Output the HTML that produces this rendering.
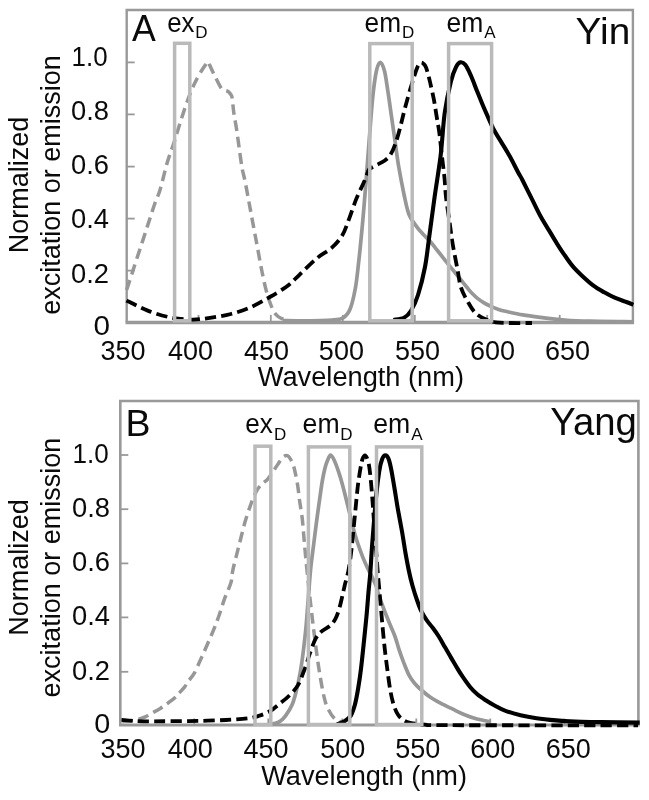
<!DOCTYPE html>
<html><head><meta charset="utf-8"><title>Yin Yang spectra</title>
<style>
html,body{margin:0;padding:0;background:#fff;}
svg{display:block;will-change:transform}
text{font-family:"Liberation Sans",Arial,Helvetica,sans-serif;fill:#0a0a0a;}
</style></head><body>
<svg width="649" height="800" viewBox="0 0 649 800">
<rect width="649" height="800" fill="#fff"/>

<g id="panelA"><path d="M126.7,322V10H632.9V322" fill="none" stroke="#999999" stroke-width="2.4"/>
<path d="M125.5,322.4H634.1" fill="none" stroke="#999999" stroke-width="3.5"/>
<path d="M126.7,62.4h8" stroke="#999999" stroke-width="1.8" fill="none"/>
<path d="M126.7,114.4h8" stroke="#999999" stroke-width="1.8" fill="none"/>
<path d="M126.7,166.6h8" stroke="#999999" stroke-width="1.8" fill="none"/>
<path d="M126.7,218.6h8" stroke="#999999" stroke-width="1.8" fill="none"/>
<path d="M126.7,270.6h8" stroke="#999999" stroke-width="1.8" fill="none"/>
<path d="M198.5,322.4v-7.5" stroke="#999999" stroke-width="1.8" fill="none"/>
<path d="M270.8,322.4v-7.5" stroke="#999999" stroke-width="1.8" fill="none"/>
<path d="M342.8,322.4v-7.5" stroke="#999999" stroke-width="1.8" fill="none"/>
<path d="M414.8,322.4v-7.5" stroke="#999999" stroke-width="1.8" fill="none"/>
<path d="M487.2,322.4v-7.5" stroke="#999999" stroke-width="1.8" fill="none"/>
<path d="M559.7,322.4v-7.5" stroke="#999999" stroke-width="1.8" fill="none"/>
<path d="M126.6,290.0C127.5,287.2 129.9,280.0 132.1,273.2C134.3,266.4 137.3,257.1 140.0,249.0C142.7,240.9 145.6,231.8 148.0,224.4C150.4,217.0 152.5,210.3 154.5,204.5C156.5,198.7 158.0,196.6 160.1,189.7C162.2,182.8 164.8,170.8 167.1,163.0C169.4,155.2 171.7,149.7 174.0,142.6C176.3,135.5 178.6,127.6 180.9,120.4C183.2,113.2 185.6,105.8 187.9,99.6C190.2,93.4 192.5,87.8 194.8,83.0C197.1,78.2 199.8,73.7 201.7,70.5C203.6,67.3 205.2,65.3 206.3,63.8C207.4,62.3 207.5,61.4 208.1,61.6C208.7,61.9 208.8,63.1 209.8,65.3C210.8,67.5 212.3,70.9 214.2,74.7C216.1,78.5 219.3,85.4 221.1,88.0C222.9,90.6 223.6,89.7 224.8,90.3C226.0,90.9 227.1,90.8 228.1,91.5C229.1,92.2 230.1,93.4 230.8,94.5C231.5,95.6 231.7,95.3 232.2,98.2C232.7,101.1 233.0,107.0 233.7,112.1C234.4,117.2 235.6,122.7 236.5,128.7C237.4,134.7 238.3,141.7 239.2,148.2C240.1,154.7 241.1,162.3 242.0,167.6C242.9,172.9 243.6,174.2 244.8,180.0C246.0,185.8 247.6,194.8 249.0,202.2C250.4,209.6 251.7,217.0 253.1,224.4C254.5,231.8 255.9,239.2 257.3,246.6C258.7,254.0 260.0,261.8 261.4,268.7C262.8,275.6 264.2,282.6 265.6,288.1C267.0,293.7 268.4,298.1 269.8,302.0C271.2,305.9 272.5,309.3 273.9,311.7C275.3,314.1 276.5,315.2 278.1,316.5C279.7,317.8 282.7,319.0 283.6,319.5" fill="none" stroke="#979797" stroke-width="3.5" stroke-linejoin="round" stroke-dasharray="10.6 5.8"/>
<path d="M283.0,320.6C285.8,320.6 291.8,320.9 300.0,320.8C308.2,320.7 324.8,320.5 332.0,320.0C339.2,319.5 340.1,319.6 343.1,317.8C346.1,316.0 348.1,314.0 350.1,309.0C352.2,304.0 353.9,296.2 355.4,288.0C356.9,279.8 357.7,270.5 358.9,260.0C360.1,249.5 361.2,237.8 362.4,225.0C363.6,212.2 364.7,197.6 365.9,183.0C367.1,168.4 368.2,152.1 369.4,137.5C370.6,122.9 371.7,106.6 372.9,95.5C374.1,84.4 375.2,76.5 376.4,71.0C377.6,65.5 378.9,62.3 380.3,62.3C381.7,62.3 383.2,66.0 384.5,71.0C385.8,76.0 386.8,84.4 388.0,92.0C389.2,99.6 390.3,108.3 391.5,116.5C392.7,124.7 393.8,132.8 395.0,141.0C396.2,149.2 397.0,156.8 398.5,165.5C400.0,174.2 402.1,185.3 403.8,193.5C405.6,201.7 406.8,208.9 409.0,214.5C411.2,220.1 414.4,223.5 416.8,226.8C419.2,230.1 420.9,231.8 423.1,234.2C425.3,236.6 427.7,238.7 430.0,241.3C432.3,243.9 434.7,247.1 437.0,250.0C439.3,252.9 442.1,256.4 444.0,258.8C445.9,261.2 446.6,262.2 448.4,264.5C450.2,266.8 452.9,269.9 455.0,272.5C457.1,275.1 458.9,277.4 461.0,280.0C463.1,282.6 465.7,285.8 467.5,288.0C469.3,290.2 470.3,291.6 472.0,293.3C473.7,295.0 475.5,296.8 477.5,298.4C479.5,300.0 481.7,301.4 484.0,302.8C486.3,304.2 489.2,305.5 491.5,306.6C493.8,307.7 495.7,308.4 498.0,309.2C500.3,310.0 501.3,310.4 505.5,311.3C509.7,312.2 516.6,313.8 523.0,314.9C529.4,316.0 537.0,316.9 544.0,317.8C551.0,318.7 557.3,319.4 565.0,320.0C572.7,320.6 578.7,320.9 590.0,321.2C601.3,321.5 625.8,321.7 633.0,321.8" fill="none" stroke="#979797" stroke-width="3.7" stroke-linejoin="round"/>
<path d="M126.5,300.5C127.0,300.8 126.2,300.3 129.7,302.0C133.2,303.7 141.0,308.1 147.7,310.6C154.4,313.2 162.5,315.8 169.9,317.3C177.3,318.8 185.2,319.6 192.1,319.6C199.0,319.7 205.0,318.5 211.5,317.6C218.0,316.7 224.4,315.7 230.9,314.0C237.4,312.3 243.8,310.2 250.3,307.4C256.8,304.6 263.8,300.4 269.8,297.0C275.8,293.6 282.0,289.9 286.4,286.8C290.8,283.7 293.1,280.9 296.0,278.2C298.9,275.5 300.3,273.9 303.9,270.5C307.5,267.1 313.1,261.4 317.7,257.6C322.3,253.8 327.5,251.6 331.6,247.9C335.7,244.2 339.3,240.3 342.2,235.5C345.1,230.7 346.8,224.8 349.1,218.8C351.4,212.8 353.8,205.2 356.1,199.4C358.4,193.6 361.3,187.9 363.0,184.2C364.7,180.5 365.1,179.4 366.1,177.0C367.1,174.6 367.6,171.3 369.0,169.5C370.4,167.7 372.0,167.5 374.6,166.0C377.2,164.5 381.8,162.6 384.5,160.7C387.2,158.8 388.8,157.4 390.6,154.5C392.4,151.6 393.9,148.2 395.5,143.5C397.1,138.8 398.9,132.4 400.5,126.2C402.1,120.0 403.5,113.5 405.4,106.5C407.3,99.5 409.9,90.2 411.8,84.0C413.7,77.8 415.3,72.8 416.5,69.5C417.7,66.2 418.2,65.2 419.0,64.0C419.8,62.8 420.3,62.6 421.0,62.5C421.7,62.4 422.3,62.6 423.2,63.5C424.1,64.4 425.1,64.7 426.2,67.8C427.3,70.9 428.8,76.8 430.0,81.9C431.2,87.1 432.6,93.1 433.7,98.7C434.8,104.3 435.6,110.0 436.5,115.6C437.4,121.2 438.4,125.9 439.3,132.5C440.2,139.1 440.9,147.4 441.8,155.0C442.7,162.6 443.8,170.8 444.5,178.0C445.2,185.2 445.2,190.5 446.1,198.0C447.0,205.5 448.6,215.3 449.7,223.1C450.8,230.9 451.5,237.0 452.8,244.7C454.1,252.4 456.1,262.2 457.5,269.4C458.9,276.6 459.2,282.2 461.1,287.9C463.0,293.5 466.1,298.9 468.7,303.3C471.2,307.7 473.3,311.2 476.4,314.0C479.5,316.8 483.9,318.6 487.2,320.0C490.5,321.4 492.2,321.8 496.0,322.3C499.8,322.8 504.0,322.9 510.0,323.0C516.0,323.1 528.3,323.0 532.0,323.0" fill="none" stroke="#000000" stroke-width="3.8" stroke-linejoin="round" stroke-dasharray="11.2 5.2"/>
<path d="M393.5,320.0C395.2,319.6 401.1,319.3 404.0,317.8C406.9,316.3 408.7,314.6 411.0,310.8C413.3,307.0 415.7,302.3 418.0,295.0C420.3,287.7 423.1,276.9 425.0,267.0C426.9,257.1 427.8,247.2 429.4,235.5C431.0,223.8 432.7,210.4 434.6,197.0C436.5,183.6 439.0,169.0 440.7,155.0C442.4,141.0 443.0,125.2 444.7,113.0C446.4,100.8 449.0,89.2 450.9,81.5C452.8,73.8 454.5,70.0 456.1,66.8C457.7,63.6 458.9,62.6 460.5,62.3C462.1,62.0 463.7,62.7 465.5,65.0C467.3,67.3 469.2,71.8 471.1,76.0C473.0,80.2 474.8,85.4 476.6,90.0C478.5,94.6 480.4,99.4 482.2,103.8C484.0,108.2 485.8,112.2 487.7,116.3C489.6,120.4 491.0,124.3 493.3,128.7C495.6,133.1 498.8,138.0 501.6,142.6C504.4,147.2 507.1,151.5 509.9,156.5C512.7,161.5 516.1,168.6 518.2,172.5C520.3,176.4 520.1,175.5 522.4,180.0C524.7,184.5 529.1,193.4 532.1,199.4C535.1,205.4 537.6,210.9 540.4,216.0C543.2,221.1 545.9,225.3 548.7,229.9C551.5,234.5 554.3,239.4 557.1,243.8C559.9,248.2 562.6,252.4 565.4,256.3C568.2,260.2 570.9,264.2 573.7,267.4C576.5,270.6 578.8,272.7 582.0,275.7C585.2,278.7 589.4,282.6 593.1,285.4C596.8,288.2 600.5,290.2 604.2,292.3C607.9,294.4 611.6,296.3 615.3,297.9C619.0,299.5 623.4,300.9 626.4,302.0C629.4,303.1 632.1,304.3 633.3,304.8" fill="none" stroke="#000000" stroke-width="4.1" stroke-linejoin="round"/>
<rect x="174.6" y="43.3" width="15.2" height="277.5" fill="none" stroke="#bababa" stroke-width="3.5" opacity="1"/>
<rect x="369.8" y="43.6" width="42.4" height="277.2" fill="none" stroke="#bababa" stroke-width="3.5" opacity="1"/>
<rect x="448.6" y="43.6" width="43.0" height="277.2" fill="none" stroke="#bababa" stroke-width="3.5" opacity="1"/>
<text x="131.9" y="41.2" font-size="37" textLength="23.8" lengthAdjust="spacingAndGlyphs">A</text>
<text x="575.6" y="44.3" font-size="37" textLength="54.6" lengthAdjust="spacingAndGlyphs">Yin</text>
<text x="167.2" y="31.7" font-size="27" textLength="27.3" lengthAdjust="spacingAndGlyphs">ex</text>
<text x="195.3" y="38.4" font-size="17">D</text>
<text x="364.6" y="31.6" font-size="27" textLength="36.5" lengthAdjust="spacingAndGlyphs">em</text>
<text x="402" y="38.2" font-size="17">D</text>
<text x="446.6" y="31.6" font-size="27" textLength="36.8" lengthAdjust="spacingAndGlyphs">em</text>
<text x="484.2" y="38.4" font-size="17">A</text>
<text x="71.6" y="66" font-size="27" textLength="36" lengthAdjust="spacingAndGlyphs">1.0</text>
<text x="71" y="119.5" font-size="27" textLength="38" lengthAdjust="spacingAndGlyphs">0.8</text>
<text x="71" y="173.5" font-size="27" textLength="38" lengthAdjust="spacingAndGlyphs">0.6</text>
<text x="71" y="227.8" font-size="27" textLength="38" lengthAdjust="spacingAndGlyphs">0.4</text>
<text x="71" y="283.2" font-size="27" textLength="38" lengthAdjust="spacingAndGlyphs">0.2</text>
<text x="93.4" y="335.4" font-size="27" textLength="16.5" lengthAdjust="spacingAndGlyphs">0</text>
<text x="123" y="359.8" font-size="27" text-anchor="middle">350</text>
<text x="190.5" y="359.8" font-size="27" text-anchor="middle">400</text>
<text x="266.5" y="359.8" font-size="27" text-anchor="middle">450</text>
<text x="341.4" y="359.8" font-size="27" text-anchor="middle">500</text>
<text x="417.5" y="359.8" font-size="27" text-anchor="middle">550</text>
<text x="492.6" y="359.8" font-size="27" text-anchor="middle">600</text>
<text x="567.5" y="359.8" font-size="27" text-anchor="middle">650</text>
<text x="257.8" y="385.8" font-size="27" textLength="206.2" lengthAdjust="spacingAndGlyphs">Wavelength (nm)</text>
<text x="28.3" y="185" font-size="27" text-anchor="middle" transform="rotate(-90 28.3 185)">Normalized</text>
<text x="60" y="185" font-size="27" text-anchor="middle" transform="rotate(-90 60 185)">excitation or emission</text></g>
<g id="panelB"><path d="M120.3,724.5V401.0H638.4V724.5" fill="none" stroke="#999999" stroke-width="2.6"/>
<path d="M119.0,725.0H639.6999999999999" fill="none" stroke="#999999" stroke-width="2.9"/>
<path d="M120.3,455h8" stroke="#999999" stroke-width="1.8" fill="none"/>
<path d="M120.3,509.2h8" stroke="#999999" stroke-width="1.8" fill="none"/>
<path d="M120.3,563.4h8" stroke="#999999" stroke-width="1.8" fill="none"/>
<path d="M120.3,617.4h8" stroke="#999999" stroke-width="1.8" fill="none"/>
<path d="M120.3,671.8h8" stroke="#999999" stroke-width="1.8" fill="none"/>
<path d="M194.3,725.0v-6.5" stroke="#999999" stroke-width="1.8" fill="none"/>
<path d="M268.3,725.0v-6.5" stroke="#999999" stroke-width="1.8" fill="none"/>
<path d="M342.3,725.0v-6.5" stroke="#999999" stroke-width="1.8" fill="none"/>
<path d="M416.3,725.0v-6.5" stroke="#999999" stroke-width="1.8" fill="none"/>
<path d="M490.3,725.0v-6.5" stroke="#999999" stroke-width="1.8" fill="none"/>
<path d="M564.4,725.0v-6.5" stroke="#999999" stroke-width="1.8" fill="none"/>
<path d="M122.2,721.5C124.3,721.2 131.2,720.8 135.0,720.0C138.8,719.2 142.2,718.1 145.0,717.0C147.8,715.9 149.3,714.5 151.9,713.1C154.5,711.7 158.0,709.8 160.3,708.4C162.6,707.0 163.6,706.3 165.9,704.6C168.2,702.9 172.4,699.8 174.4,698.1C176.4,696.4 176.4,696.2 178.1,694.3C179.8,692.4 183.1,688.8 184.7,686.8C186.3,684.8 185.9,684.3 187.5,682.1C189.1,679.9 191.8,677.6 194.0,673.7C196.2,669.8 198.8,663.5 201.0,658.7C203.2,653.9 205.1,649.5 207.2,644.7C209.3,639.9 211.7,634.7 213.7,629.7C215.7,624.7 217.5,619.9 219.3,614.7C221.1,609.5 222.7,604.0 224.6,598.7C226.5,593.4 229.5,587.5 230.9,582.8C232.3,578.1 231.6,576.1 232.8,570.3C234.0,564.5 236.5,555.6 238.3,548.2C240.2,540.8 242.4,531.7 243.9,526.0C245.4,520.3 246.4,517.5 247.5,514.0C248.6,510.5 249.6,507.8 250.6,505.0C251.6,502.2 252.4,499.6 253.6,497.0C254.8,494.4 256.1,491.5 257.5,489.3C258.9,487.1 260.5,485.6 262.2,483.9C263.9,482.2 265.9,481.2 267.7,479.1C269.5,477.0 271.4,473.8 273.1,471.3C274.8,468.9 276.4,466.5 277.8,464.4C279.2,462.3 280.5,460.0 281.6,458.6C282.7,457.2 283.4,456.7 284.2,456.2C285.0,455.7 285.5,455.5 286.2,455.5C286.9,455.5 287.5,455.7 288.2,456.2C288.9,456.7 289.3,457.1 290.1,458.5C290.9,459.9 292.3,462.1 293.2,464.7C294.1,467.3 294.7,470.3 295.5,473.9C296.3,477.5 297.2,482.1 297.8,486.2C298.4,490.3 298.8,494.6 299.3,498.5C299.8,502.4 300.4,505.7 300.9,509.3C301.4,512.9 301.7,513.4 302.4,520.0C303.1,526.6 303.9,537.9 304.9,548.7C305.9,559.5 307.3,573.4 308.5,584.9C309.7,596.4 311.0,607.2 312.2,617.5C313.4,627.8 314.6,637.4 315.8,646.4C317.0,655.4 318.0,663.3 319.4,671.8C320.8,680.3 322.6,690.9 324.1,697.2C325.6,703.5 326.6,706.1 328.5,709.8C330.4,713.5 333.0,717.5 335.7,719.6C338.4,721.7 343.2,722.0 344.7,722.5" fill="none" stroke="#979797" stroke-width="3.5" stroke-linejoin="round" stroke-dasharray="10.6 5.8"/>
<path d="M270.3,724.2C271.1,724.1 273.4,723.8 275.0,723.3C276.6,722.8 278.2,722.6 280.0,721.4C281.8,720.2 283.5,718.7 285.5,715.9C287.5,713.1 290.3,709.0 292.1,704.8C293.9,700.6 294.9,696.4 296.3,690.9C297.7,685.4 299.2,678.0 300.4,671.5C301.5,665.0 302.3,659.5 303.2,652.1C304.1,644.7 305.2,635.4 306.0,627.1C306.8,618.8 307.4,609.2 308.0,602.2C308.6,595.2 308.8,591.2 309.3,585.0C309.8,578.8 310.3,571.9 311.1,564.8C311.9,557.7 313.0,550.0 313.9,542.6C314.8,535.2 315.8,527.3 316.7,520.4C317.6,513.5 318.5,507.5 319.4,501.0C320.3,494.5 321.3,487.1 322.2,481.6C323.1,476.1 324.1,471.6 325.0,468.0C325.9,464.4 326.8,462.1 327.7,460.0C328.6,457.9 329.4,455.2 330.5,455.2C331.6,455.2 332.8,457.4 334.1,460.0C335.4,462.6 336.8,466.6 338.2,470.7C339.6,474.8 341.0,479.3 342.4,484.4C343.8,489.4 345.2,495.5 346.6,501.0C348.0,506.5 349.3,512.1 350.7,517.6C352.1,523.1 353.3,528.8 354.9,534.3C356.5,539.8 358.5,545.8 360.4,550.9C362.2,556.0 364.1,560.6 366.0,564.8C367.9,569.0 369.8,572.4 371.5,575.9C373.2,579.4 375.1,583.0 376.2,586.0C377.3,589.0 377.1,590.0 378.4,593.9C379.7,597.8 382.1,604.5 384.0,609.5C385.9,614.5 388.0,619.5 389.8,624.0C391.6,628.5 393.4,632.1 395.0,636.5C396.6,640.9 397.9,646.2 399.4,650.6C400.9,655.0 402.2,658.7 403.8,662.8C405.4,666.9 407.2,671.7 409.0,675.1C410.8,678.5 412.2,680.5 414.3,683.0C416.4,685.5 418.7,687.7 421.3,690.0C423.9,692.3 426.8,694.8 430.0,697.0C433.2,699.2 436.7,701.1 440.5,703.1C444.3,705.1 448.9,707.3 452.8,709.2C456.7,711.1 460.1,712.9 464.0,714.5C467.9,716.1 471.8,717.6 476.2,718.8C480.6,720.0 488.3,721.3 490.7,721.8" fill="none" stroke="#979797" stroke-width="3.7" stroke-linejoin="round"/>
<path d="M121.5,719.8C123.8,720.0 130.1,720.7 135.0,721.0C139.9,721.3 145.2,721.4 151.0,721.4C156.8,721.4 162.2,721.3 170.0,721.2C177.8,721.1 188.7,721.1 198.0,720.9C207.3,720.7 217.6,720.4 225.9,720.0C234.2,719.6 242.5,719.0 248.0,718.3C253.5,717.6 255.3,717.0 259.0,715.8C262.7,714.6 266.8,713.1 270.3,711.0C273.8,708.9 277.0,705.8 280.0,703.4C283.0,701.0 285.3,699.5 288.3,696.5C291.3,693.5 295.1,690.0 297.8,685.4C300.6,680.8 302.7,674.2 304.8,668.7C306.9,663.2 308.5,657.2 310.3,652.1C312.1,647.0 314.0,641.7 315.9,638.2C317.8,634.7 319.3,633.4 321.6,631.3C323.9,629.2 327.6,627.9 329.9,625.8C332.2,623.7 333.8,621.8 335.4,618.8C337.0,615.8 338.3,611.9 339.5,607.7C340.7,603.6 341.9,597.7 342.8,593.9C343.7,590.1 343.9,588.9 344.8,585.0C345.8,581.1 347.4,576.0 348.5,570.3C349.6,564.6 350.5,557.4 351.3,550.9C352.1,544.4 352.6,538.4 353.3,531.5C354.0,524.6 354.8,516.7 355.5,509.3C356.2,501.9 356.9,494.0 357.7,487.1C358.5,480.2 359.7,472.8 360.5,468.1C361.3,463.4 361.8,460.9 362.6,458.8C363.4,456.7 364.5,455.2 365.4,455.6C366.3,456.1 367.4,458.5 368.2,461.5C369.0,464.5 369.5,467.7 370.1,473.4C370.8,479.1 371.5,488.1 372.1,495.5C372.7,502.9 373.1,509.3 373.7,517.6C374.3,525.9 375.0,536.6 375.7,545.4C376.4,554.2 377.1,563.7 377.6,570.3C378.1,576.9 378.4,579.7 378.9,585.0C379.4,590.3 379.8,595.2 380.4,602.2C381.0,609.2 381.9,619.2 382.6,627.1C383.3,635.0 384.0,641.9 384.8,649.3C385.6,656.7 386.7,664.6 387.6,671.5C388.5,678.4 389.4,685.4 390.4,690.9C391.4,696.4 392.4,700.9 393.7,704.8C394.9,708.7 396.3,712.0 397.9,714.5C399.5,717.0 401.3,718.6 403.4,720.0C405.5,721.4 406.7,722.0 410.3,722.8C413.9,723.6 418.4,724.2 425.0,724.6C431.6,725.0 414.5,725.1 450.0,725.2C485.5,725.3 606.7,725.3 638.0,725.3" fill="none" stroke="#000000" stroke-width="3.8" stroke-linejoin="round" stroke-dasharray="11.2 5.2"/>
<path d="M337.0,724.3C338.1,723.8 341.5,723.0 343.8,721.6C346.1,720.2 348.9,718.7 350.7,715.9C352.5,713.1 353.6,709.4 354.9,704.8C356.1,700.2 357.2,694.2 358.2,688.2C359.2,682.2 360.1,676.1 361.0,668.7C361.9,661.3 362.8,652.6 363.7,643.8C364.6,635.0 365.7,624.7 366.5,616.1C367.3,607.5 367.9,599.2 368.5,592.0C369.1,584.8 369.7,580.8 370.3,573.0C370.9,565.2 371.4,554.6 372.1,545.4C372.8,536.2 373.6,526.4 374.3,517.6C375.0,508.8 375.7,500.5 376.5,492.7C377.3,484.9 378.4,476.4 379.3,470.8C380.2,465.2 381.1,461.8 382.1,459.2C383.1,456.6 384.3,455.4 385.4,455.4C386.5,455.4 387.7,456.6 388.7,459.2C389.7,461.8 390.6,466.1 391.5,470.8C392.4,475.5 393.2,480.7 394.3,487.1C395.4,493.5 396.6,501.9 397.9,509.3C399.2,516.7 400.7,524.1 402.0,531.5C403.3,538.9 404.5,547.3 405.6,553.7C406.7,560.1 407.6,564.6 408.7,570.0C409.8,575.4 411.1,580.8 412.5,585.8C413.9,590.8 415.4,595.6 416.9,599.8C418.4,604.0 419.7,607.9 421.3,611.2C422.9,614.6 424.6,617.1 426.5,619.9C428.4,622.7 430.6,625.0 432.7,627.8C434.8,630.6 436.8,633.3 438.8,636.5C440.8,639.7 442.9,643.6 444.9,647.1C446.9,650.6 448.9,654.1 451.0,657.6C453.1,661.1 455.1,664.8 457.2,668.1C459.2,671.5 461.1,674.5 463.3,677.7C465.5,680.9 468.0,684.5 470.3,687.3C472.6,690.1 474.7,692.1 477.3,694.3C479.9,696.5 483.2,698.6 486.1,700.5C489.1,702.4 491.9,704.1 495.0,705.7C498.1,707.4 500.1,708.8 504.4,710.4C508.6,712.0 515.1,714.0 520.5,715.3C525.9,716.6 530.7,717.4 536.6,718.2C542.5,719.1 549.5,719.8 556.0,720.4C562.5,721.0 568.0,721.3 575.3,721.6C582.6,721.9 589.3,721.9 600.0,722.1C610.7,722.3 633.1,722.5 639.7,722.6" fill="none" stroke="#000000" stroke-width="4.1" stroke-linejoin="round"/>
<rect x="255.0" y="446.2" width="15.8" height="278.3" fill="none" stroke="#bababa" stroke-width="3.5" opacity="1"/>
<rect x="308.4" y="446.9" width="41.4" height="277.6" fill="none" stroke="#bababa" stroke-width="3.5" opacity="1"/>
<rect x="376.5" y="446.9" width="45.3" height="277.6" fill="none" stroke="#bababa" stroke-width="3.5" opacity="1"/>
<text x="125.5" y="436.4" font-size="37.5">B</text>
<text x="550.2" y="434.6" font-size="38" textLength="86.6" lengthAdjust="spacingAndGlyphs">Yang</text>
<text x="245.3" y="433" font-size="27" textLength="27.6" lengthAdjust="spacingAndGlyphs">ex</text>
<text x="274" y="440" font-size="17">D</text>
<text x="302.6" y="433" font-size="27" textLength="37" lengthAdjust="spacingAndGlyphs">em</text>
<text x="340.2" y="440" font-size="17">D</text>
<text x="373.2" y="433" font-size="27" textLength="37" lengthAdjust="spacingAndGlyphs">em</text>
<text x="411.3" y="440" font-size="17">A</text>
<text x="72.6" y="462.5" font-size="27" textLength="36.2" lengthAdjust="spacingAndGlyphs">1.0</text>
<text x="72" y="516.8" font-size="27" textLength="38" lengthAdjust="spacingAndGlyphs">0.8</text>
<text x="72" y="571.0" font-size="27" textLength="38" lengthAdjust="spacingAndGlyphs">0.6</text>
<text x="72" y="625.4" font-size="27" textLength="38" lengthAdjust="spacingAndGlyphs">0.4</text>
<text x="72" y="679.8" font-size="27" textLength="38" lengthAdjust="spacingAndGlyphs">0.2</text>
<text x="94.2" y="733.2" font-size="27" textLength="16" lengthAdjust="spacingAndGlyphs">0</text>
<text x="123" y="757.5" font-size="27" text-anchor="middle">350</text>
<text x="190.3" y="757.7" font-size="27" text-anchor="middle">400</text>
<text x="266" y="757.5" font-size="27" text-anchor="middle">450</text>
<text x="342.7" y="757.7" font-size="27" text-anchor="middle">500</text>
<text x="417.8" y="757.7" font-size="27" text-anchor="middle">550</text>
<text x="492.8" y="757.7" font-size="27" text-anchor="middle">600</text>
<text x="568.2" y="757.7" font-size="27" text-anchor="middle">650</text>
<text x="261.2" y="785.2" font-size="27" textLength="205.8" lengthAdjust="spacingAndGlyphs">Wavelength (nm)</text>
<text x="28.3" y="567.6" font-size="27" text-anchor="middle" transform="rotate(-90 28.3 567.6)">Normalized</text>
<text x="59.8" y="567.6" font-size="27" text-anchor="middle" transform="rotate(-90 59.8 567.6)">excitation or emission</text></g>
</svg></body></html>
